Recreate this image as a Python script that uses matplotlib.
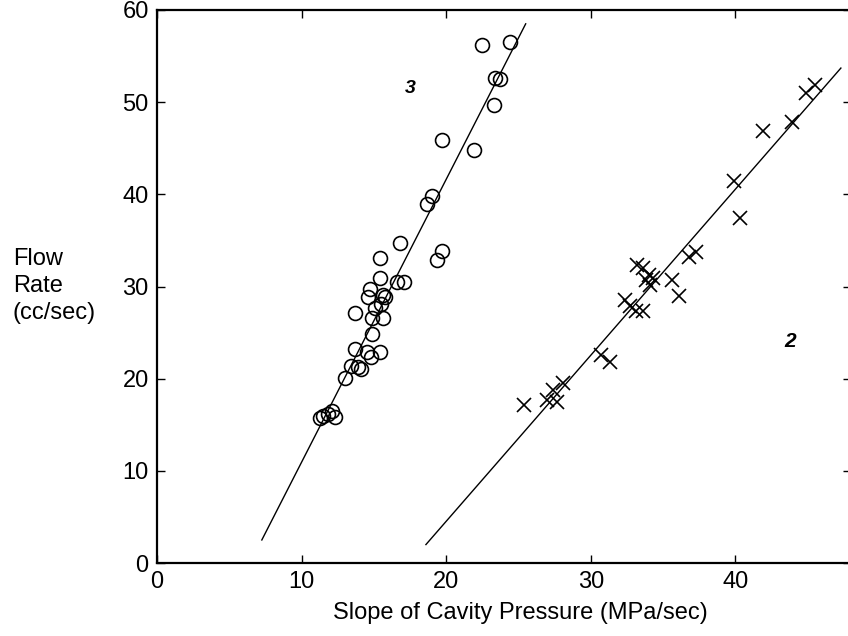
import matplotlib
matplotlib.use('Agg')
import matplotlib.pyplot as plt

plt.rcParams['font.family'] = ['Liberation Sans', 'DejaVu Sans']

# circle series (x = slope of cavity pressure, y = flow rate)
circ_x = [24.4, 22.5, 23.3, 23.4, 23.7, 21.9, 19.7, 19.0, 18.7, 19.7, 19.4, 16.8,
          17.1, 16.6, 15.4, 15.4, 15.6, 15.8, 14.7, 14.6, 15.5, 15.1, 14.9, 15.6,
          13.7, 14.9, 13.7, 14.5, 15.4, 14.8, 13.4, 13.9, 14.1, 13.0, 12.3, 12.1,
          11.5, 11.8, 11.3]
circ_y = [56.5, 56.2, 49.7, 52.6, 52.5, 44.8, 45.9, 39.8, 39.0, 33.8, 32.9, 34.7,
          30.5, 30.5, 33.1, 30.9, 29.1, 28.9, 29.7, 28.9, 28.1, 27.7, 26.6, 26.6,
          27.1, 24.9, 23.2, 22.9, 22.9, 22.3, 21.4, 21.3, 21.1, 20.1, 15.8, 16.5,
          15.9, 16.2, 15.7]

# cross series
cross_x = [25.4, 27.0, 27.4, 27.7, 28.1, 30.7, 31.3, 32.4, 32.7, 33.1, 33.6, 33.2,
           33.6, 34.0, 34.3, 33.8, 34.1, 35.6, 36.1, 36.8, 37.3, 39.9, 40.3, 41.9,
           43.9, 44.9, 45.5]
cross_y = [17.1, 17.7, 18.8, 17.5, 19.5, 22.6, 21.8, 28.5, 27.9, 27.3, 27.3, 32.3,
           32.0, 31.3, 30.9, 30.7, 30.2, 30.7, 29.0, 33.2, 33.7, 41.4, 37.4, 46.9,
           47.8, 51.0, 51.9]

# fitted lines
fit1_x = [7.25, 25.5]
fit1_y = [2.5, 58.5]
fit2_x = [18.6, 47.3]
fit2_y = [2.0, 53.7]

xticks = [0, 10, 20, 30, 40]
yticks = [0, 10, 20, 30, 40, 50, 60]

fig = plt.figure(figsize=(8.48, 6.36), dpi=100)
# axes run past the right edge of the figure, as in the original crop
ax = fig.add_axes([157 / 848, 73 / 636, 694 / 848, 553 / 636])

ax.plot(fit1_x, fit1_y, color='black', lw=1.0)
ax.plot(fit2_x, fit2_y, color='black', lw=1.0)
ax.plot(circ_x, circ_y, 'o', mfc='none', mec='black', ms=10, mew=1.2)
ax.plot(cross_x, cross_y, 'x', color='black', ms=10, mew=1.2)

ax.text(17.5, 51.5, '3', fontsize=14, fontweight='bold', style='italic', ha='center', va='center')
ax.text(43.8, 24.0, '2', fontsize=15, fontweight='bold', style='italic', ha='center', va='center')

ax.set_xlim(0, 48)
ax.set_ylim(0, 60)
ax.set_xticks(xticks)
ax.set_yticks(yticks)
ax.tick_params(direction='in', length=6, width=1, labelsize=17,
               top=True, right=True, pad=6)
for s in ax.spines.values():
    s.set_linewidth(1.6)

fig.text(13 / 848, 1 - 286 / 636, 'Flow\nRate\n(cc/sec)', fontsize=17,
         ha='left', va='center', linespacing=1.3)
fig.text(520 / 848, 1 - 613 / 636, 'Slope of Cavity Pressure (MPa/sec)', fontsize=17,
         ha='center', va='center')

fig.savefig('out.png', dpi=100)
